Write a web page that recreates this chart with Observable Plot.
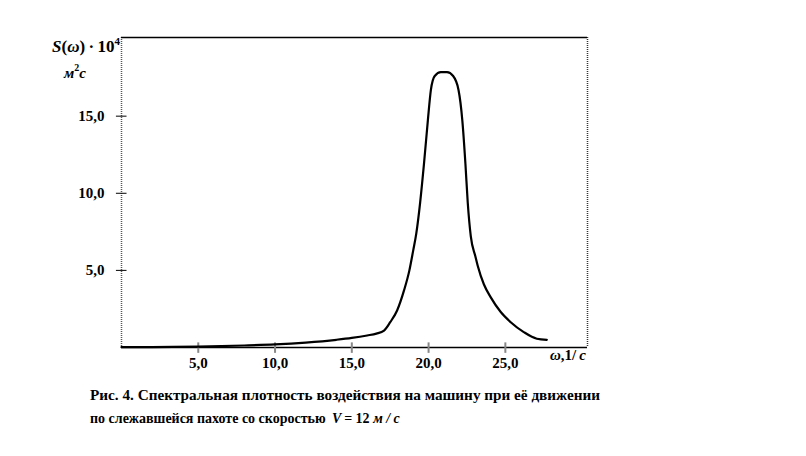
<!DOCTYPE html>
<html>
<head>
<meta charset="utf-8">
<script src="https://cdn.jsdelivr.net/npm/d3@7"></script>
<script src="https://cdn.jsdelivr.net/npm/@observablehq/plot@0.6"></script>
<style>
  html, body { margin: 0; padding: 0; background: #fff; }
  svg text { font-family: "Liberation Serif", "DejaVu Serif", serif; }
</style>
</head>
<body>
<div id="chart"></div>
<script>
// Frequency ω, 1/c
const omega = [0, 2, 5, 8, 10, 12, 14, 15, 16, 16.6, 17.1, 17.5, 17.95, 18.4, 18.75, 19.0, 19.2, 19.45, 19.7, 19.95, 20.15, 20.4, 20.8, 21.2, 21.6, 21.95, 22.2, 22.4, 22.55, 22.75, 23.05, 23.2, 23.6, 24.05, 24.7, 25.35, 26.2, 27.05, 27.7];
// Spectral density S(ω)·10^4, м²с
const S = [0.02, 0.03, 0.06, 0.13, 0.2, 0.32, 0.5, 0.62, 0.78, 0.9, 1.1, 1.64, 2.4, 3.7, 5.0, 6.3, 7.4, 9.4, 11.9, 14.7, 16.7, 17.6, 17.85, 17.85, 17.6, 16.7, 14.7, 11.9, 9.4, 7.2, 5.9, 5.3, 4.1, 3.25, 2.3, 1.64, 1.0, 0.57, 0.5];
const xTicks = [5, 10, 15, 20, 25];
const yTicks = [5, 10, 15];
const tickFmt = d => d.toFixed(1).replace(".", ",");
const captionLines = [
  "Рис. 4. Спектральная плотность воздействия на машину при её движении",
  "по слежавшейся пахоте со скоростью "
];

const data = omega.map((w, i) => ({w, s: S[i]}));
const xMax = 30.35, yMax = 20.1;

const chart = Plot.plot({
  width: 806,
  height: 456,
  marginLeft: 121,
  marginRight: 219,
  marginTop: 37,
  marginBottom: 109,
  style: {background: "#fff", fontFamily: "Liberation Serif, serif"},
  x: {type: "linear", domain: [0, xMax], axis: null},
  y: {type: "linear", domain: [0, yMax], axis: null},
  marks: [
    // frame: dotted left & right, solid top & bottom
    Plot.ruleX([0], {stroke: "#555", strokeWidth: 1.5, strokeDasharray: "1,1"}),
    Plot.ruleX([xMax], {stroke: "#333", strokeWidth: 1.5, strokeDasharray: "1,1"}),
    Plot.ruleY([yMax], {stroke: "#000", strokeWidth: 1.5}),
    Plot.ruleY([0], {stroke: "#000", strokeWidth: 1.5}),
    // x ticks
    Plot.ruleX(xTicks, {x: d => d, y1: -0.38, y2: 0.3, stroke: "#888", strokeWidth: 2}),
    Plot.text(xTicks, {x: d => d, y: 0, text: tickFmt, dy: 10, fontSize: 15, fontWeight: "bold", fill: "#000", textAnchor: "middle", lineAnchor: "top"}),
    // y ticks (crosses)
    Plot.ruleY(yTicks, {y: d => d, x1: -0.33, x2: 0.36, stroke: "#000", strokeWidth: 1}),
    Plot.text(yTicks, {x: 0, y: d => d, text: tickFmt, dx: -17, fontSize: 15, fontWeight: "bold", fill: "#000", textAnchor: "end"}),
    // curve
    Plot.line(data, {x: "w", y: "s", stroke: "#000", strokeWidth: 2.2, curve: "monotone-x"})
  ]
});

document.getElementById("chart").appendChild(chart);

const svg = d3.select(chart);

// Y axis label
const yl = svg.append("text").attr("x", 52).attr("y", 52).attr("text-anchor", "start")
  .attr("font-size", 17).attr("font-weight", "bold").attr("fill", "#000");
yl.append("tspan").attr("font-style", "italic").text("S");
yl.append("tspan").text("(");
yl.append("tspan").attr("font-style", "italic").text("ω");
yl.append("tspan").text(")\u2009·\u200910");
yl.append("tspan").attr("font-size", 11).attr("dy", -7).text("4");

const yu = svg.append("text").attr("x", 64).attr("y", 78).attr("text-anchor", "start")
  .attr("font-size", 15).attr("font-weight", "bold").attr("font-style", "italic").attr("fill", "#000");
yu.append("tspan").text("м");
yu.append("tspan").attr("font-size", 10).attr("dy", -7).attr("font-style", "normal").text("2");
yu.append("tspan").attr("dy", 7).text("с");

// X axis label
const xl = svg.append("text").attr("x", 550).attr("y", 360).attr("text-anchor", "start")
  .attr("font-size", 15).attr("font-weight", "bold").attr("fill", "#000");
xl.append("tspan").attr("font-style", "italic").text("ω");
xl.append("tspan").text(",1/\u2009");
xl.append("tspan").attr("font-style", "italic").text("с");

// Caption
svg.append("text").attr("x", 90).attr("y", 400).attr("text-anchor", "start").attr("font-size", 14).attr("font-weight", "bold")
  .attr("fill", "#000").attr("textLength", 510).attr("lengthAdjust", "spacingAndGlyphs").text(captionLines[0]);
const c2 = svg.append("text").attr("x", 90).attr("y", 423).attr("text-anchor", "start").attr("font-size", 14).attr("font-weight", "bold").attr("fill", "#000");
c2.append("tspan").text(captionLines[1]);
c2.append("tspan").attr("font-style", "italic").text("\u2009V\u2009");
c2.append("tspan").text("= 12 ");
c2.append("tspan").attr("font-style", "italic").text("м / с");
</script>
</body>
</html>
